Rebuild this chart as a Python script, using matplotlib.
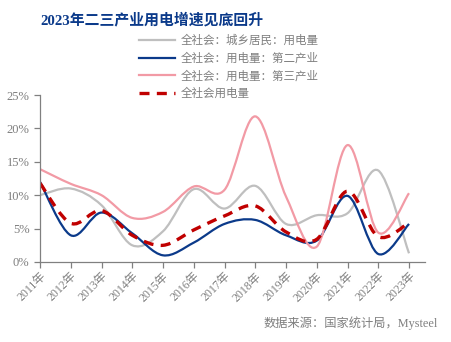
import numpy as np
import matplotlib
matplotlib.use("Agg")
import matplotlib.pyplot as plt
from matplotlib.path import Path
from matplotlib.patches import PathPatch
from matplotlib.lines import Line2D

plt.rcParams['font.family'] = ['Liberation Serif', 'Noto Sans CJK SC', 'DejaVu Sans']

years = ["2011年", "2012年", "2013年", "2014年", "2015年", "2016年", "2017年",
         "2018年", "2019年", "2020年", "2021年", "2022年", "2023年"]
residential = [10.0, 11.0, 8.5, 2.5, 4.6, 10.9, 8.0, 11.4, 5.7, 7.0, 7.3, 13.7, 1.3]
secondary = [12.0, 4.0, 7.4, 4.3, 1.0, 2.9, 5.7, 6.3, 4.0, 3.2, 9.9, 1.2, 5.7]
tertiary = [13.9, 11.7, 10.0, 6.6, 7.5, 11.3, 10.8, 21.8, 9.8, 2.3, 17.5, 4.4, 10.3]
total = [11.8, 5.8, 7.7, 4.0, 2.5, 4.8, 6.9, 8.4, 4.5, 3.4, 10.6, 3.8, 5.9]

names = ["全社会：城乡居民：用电量", "全社会：用电量：第二产业",
         "全社会：用电量：第三产业", "全社会用电量"]

C_GRAY = "#BFBFBF"
C_BLUE = "#0B3A8A"
C_PINK = "#F29AA5"
C_RED = "#C00000"
TXT = "#7F7F7F"


def smooth_path(x, y, k=1/6):
    """Catmull-Rom style cubic Bezier path through the points."""
    x = np.asarray(x, float)
    y = np.asarray(y, float)
    n = len(x)
    verts = [(x[0], y[0])]
    codes = [Path.MOVETO]
    for i in range(n - 1):
        p0 = np.array([x[max(i - 1, 0)], y[max(i - 1, 0)]])
        p1 = np.array([x[i], y[i]])
        p2 = np.array([x[i + 1], y[i + 1]])
        p3 = np.array([x[min(i + 2, n - 1)], y[min(i + 2, n - 1)]])
        c1 = p1 + (p2 - p0) * k
        c2 = p2 - (p3 - p1) * k
        verts += [tuple(c1), tuple(c2), tuple(p2)]
        codes += [Path.CURVE4] * 3
    return Path(verts, codes)


fig = plt.figure(figsize=(4.51, 3.42), dpi=100)
ax = fig.add_axes([40 / 451, 1 - 262 / 342, 385 / 451, 167 / 342])

x = np.arange(len(years))
series = [
    (residential, C_GRAY, "-", 1.6),
    (secondary, C_BLUE, "-", 1.6),
    (tertiary, C_PINK, "-", 1.6),
    (total, C_RED, (0, (3.0, 2.2)), 2.4),
]
handles = []
for (vals, col, ls, lw), name in zip(series, names):
    patch = PathPatch(smooth_path(x, vals), facecolor="none", edgecolor=col,
                      linewidth=lw, linestyle=ls, capstyle="butt")
    ax.add_patch(patch)
    handles.append(Line2D([], [], color=col, linestyle=ls, linewidth=lw))

ax.set_xlim(0, 12.52)
ax.set_ylim(0, 25)
ax.set_yticks(np.arange(0, 26, 5))
ax.set_yticklabels([f"{v}%" for v in range(0, 26, 5)])
ax.set_xticks(x)
ax.set_xticklabels(years, rotation=45, ha="right", rotation_mode="anchor")

for s in ["top", "right"]:
    ax.spines[s].set_visible(False)
for s in ["left", "bottom"]:
    ax.spines[s].set_color("#808080")
    ax.spines[s].set_linewidth(0.9)
ax.tick_params(axis="both", colors="#808080", length=4, width=0.9,
               labelcolor=TXT, labelsize=9)
ax.tick_params(axis="x", labelsize=8.5, pad=2)

fig.text(40 / 451, 1 - 20 / 342, "2023年二三产业用电增速见底回升",
         fontsize=10.7, fontweight="bold", color="#0B3A8A", va="center", ha="left")

fig.legend(handles, names, loc="upper left",
           bbox_to_anchor=(139 / 451, 1 - 35 / 342), frameon=False,
           fontsize=8.3, handlelength=3.1, handletextpad=0.55, labelspacing=0.5,
           labelcolor=TXT, borderpad=0, borderaxespad=0)

fig.text(438 / 451, 1 - 323 / 342, "数据来源：国家统计局，Mysteel",
         fontsize=8.8, color=TXT, ha="right", va="center")

fig.savefig("out.png", dpi=100)
